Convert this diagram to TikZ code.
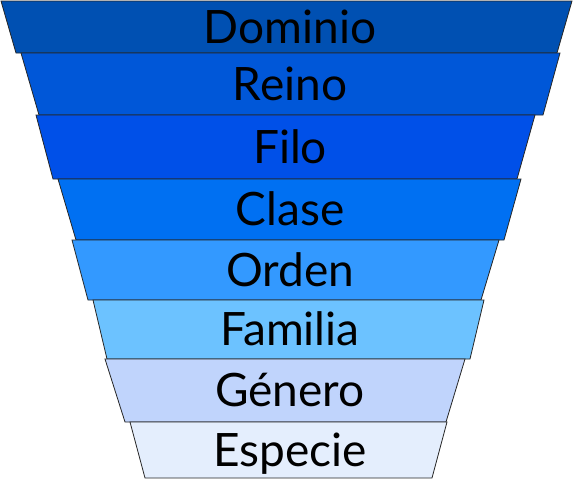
\documentclass[tikz,border=0pt]{standalone}
\usepackage{fontspec}
\setmainfont{Lato}
\usepackage{xcolor}
\definecolor{dominioblue}{HTML}{0050B2}
\definecolor{reinoblue}{HTML}{0057D8}
\definecolor{filoblue}{HTML}{0050E8}
\definecolor{claseblue}{HTML}{0070F2}
\definecolor{ordenblue}{HTML}{3399FF}
\definecolor{familiablue}{HTML}{6CC2FF}
\definecolor{generoblue}{HTML}{C0D4FC}
\definecolor{especieblue}{HTML}{E4EEFD}
\tikzset{
    layer/.style={draw=black!85, line width=0.8pt, line join=miter},
    rank/.style={anchor=base, font=\fontsize{46}{46}\selectfont, inner sep=0pt}
}

\begin{document}
\begin{tikzpicture}[x=1pt, y=-1pt]
    \useasboundingbox (0,0) rectangle (573,480);

    % Layers: top, bottom, top left, top right, bottom left, bottom right
    \foreach \ytop/\ybot/\tl/\tr/\bl/\br/\col/\name/\txt in {
        1/53/1/572/16/557/dominioblue/dominio/Dominio,
        53/115/21/560/39/543/reinoblue/reino/Reino,
        115/179/36/535/53/517/filoblue/filo/Filo,
        179/240/58/521/76/504/claseblue/clase/Clase,
        240/300/72/499/88/481/ordenblue/orden/Orden,
        300/359/93/484/107/470/familiablue/familia/Familia,
        359/422/105/465/125/446/generoblue/genero/Género,
        422/478/130/447/145/432/especieblue/especie/Especie}
    {
        \draw[layer, fill=\col] (\tl,\ytop) -- (\tr,\ytop) -- (\br,\ybot) -- (\bl,\ybot) -- cycle;
        \node[rank] (\name) at (290, {(\ytop+\ybot)/2+16}) {\txt};
    }
\end{tikzpicture}
\end{document}
